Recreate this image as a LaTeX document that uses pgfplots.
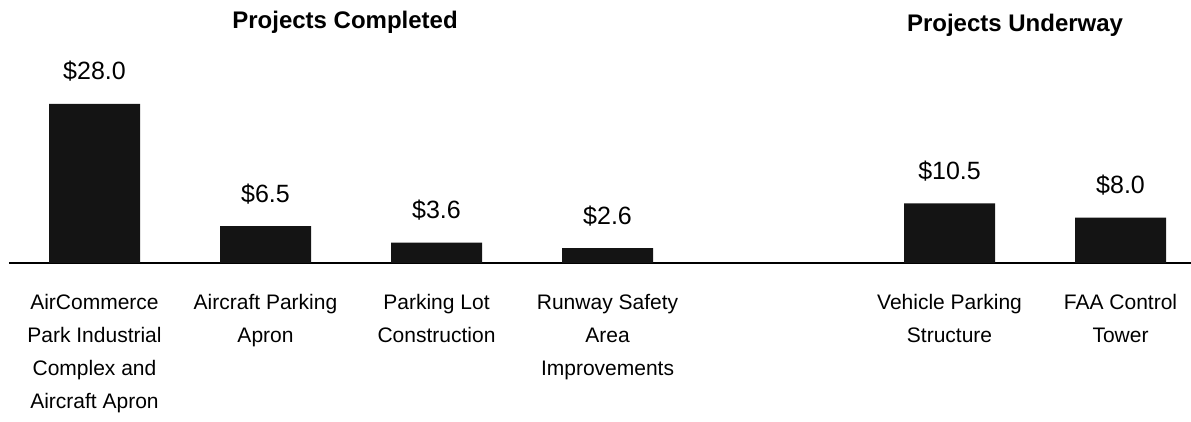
\documentclass[border=0pt]{standalone}
\usepackage{pgfplots}
\pgfplotsset{compat=1.18}
\usepackage{fontspec}
\setmainfont{Liberation Sans}

\begin{document}
\begin{tikzpicture}
\begin{axis}[
    name=ax,
    scale only axis,
    width=1182pt, height=263pt,
    xmin=-0.5, xmax=6.412,
    ymin=0, ymax=46.3,
    axis x line=bottom, axis y line=none,
    axis line style={-, line width=1.3pt, black},
    ybar, bar width=91pt,
    xtick={0,1,2,3,5,6},
    xticklabels={{AirCommerce\\Park Industrial\\Complex and\\Aircraft Apron},
                 {Aircraft Parking\\Apron},
                 {Parking Lot\\Construction},
                 {Runway Safety\\Area\\Improvements},
                 {Vehicle Parking\\Structure},
                 {FAA Control\\Tower}},
    xticklabel style={anchor=north, inner sep=0pt, yshift=-31.5pt, align=center,
                      font=\fontsize{21}{33}\selectfont},
    major tick length=0pt,
    ytick=\empty,
    clip=false,
    /pgf/number format/assume math mode=true,
    nodes near coords={\$\pgfmathprintnumber[fixed,fixed zerofill,precision=1,assume math mode=true]{\pgfplotspointmeta}},
    nodes near coords style={anchor=base, yshift=24pt, inner sep=0pt,
                             font=\fontsize{25}{30}\selectfont},
]
\addplot[fill=black!92, draw=none] coordinates {(0,28.0) (1,6.5) (2,3.6) (3,2.6) (5,10.5) (6,8.0)};
\node[font=\bfseries\fontsize{24}{28}\selectfont] at (axis cs:1.465,42.4) {Projects Completed};
\node[font=\bfseries\fontsize{24}{28}\selectfont] at (axis cs:5.383,41.9) {Projects Underway};
\end{axis}
\pgfresetboundingbox
\path[use as bounding box] ([xshift=-9pt,yshift=-158pt]ax.south west) rectangle (ax.north east);
\end{tikzpicture}
\end{document}
